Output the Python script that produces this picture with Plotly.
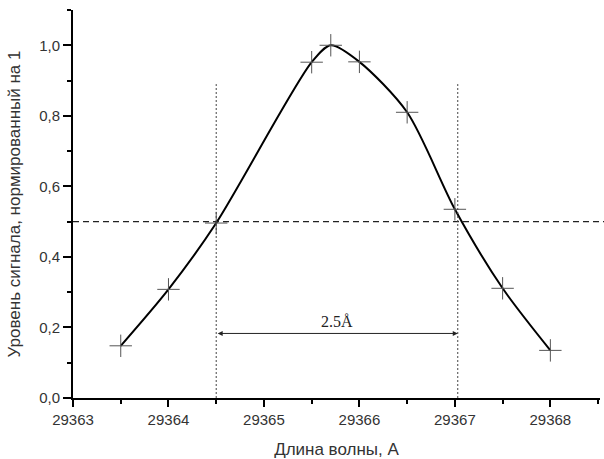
import plotly.graph_objects as go

# Data
wavelength = [29363.5, 29364.0, 29364.5, 29365.5, 29365.7, 29366.0, 29366.5, 29367.0, 29367.5, 29368.0]
signal = [0.148, 0.308, 0.496, 0.952, 1.0, 0.953, 0.81, 0.535, 0.311, 0.135]
half_level = 0.5
fwhm_left = 29364.5
fwhm_right = 29367.03
fwhm_top = 0.89
arrow_y = 0.183
fwhm_label = "2.5Å"
x_ticks = [29363, 29364, 29365, 29366, 29367, 29368]
y_ticks = [0.0, 0.2, 0.4, 0.6, 0.8, 1.0]
y_tick_text = ["0,0", "0,2", "0,4", "0,6", "0,8", "1,0"]

font_family = "Liberation Sans, Arial, sans-serif"

fig = go.Figure()

fig.add_trace(go.Scatter(
    x=wavelength, y=signal, mode="lines",
    line=dict(color="black", width=2, shape="spline", smoothing=0.8),
    showlegend=False, hoverinfo="skip",
))
fig.add_trace(go.Scatter(
    x=wavelength, y=signal, mode="markers",
    marker=dict(symbol="cross-thin", size=16, line=dict(color="#555555", width=1)),
    showlegend=False,
))

# half-max dashed line
fig.add_shape(type="line", xref="paper", yref="y", x0=0, x1=1.01, y0=half_level, y1=half_level,
              line=dict(color="#222222", width=1.2, dash="6px,4px"))
# vertical dotted lines
for xv in [fwhm_left, fwhm_right]:
    fig.add_shape(type="line", xref="x", yref="y", x0=xv, x1=xv, y0=0, y1=fwhm_top,
                  line=dict(color="#444444", width=1, dash="2px,2px"))

# double arrow
fig.add_annotation(x=fwhm_right, y=arrow_y, ax=fwhm_left, ay=arrow_y,
                   xref="x", yref="y", axref="x", ayref="y",
                   showarrow=True, arrowhead=2, startarrowhead=2, arrowside="end+start",
                   arrowsize=1, arrowwidth=1, arrowcolor="#222222", text="")
fig.add_annotation(x=(fwhm_left + fwhm_right) / 2, y=arrow_y, xref="x", yref="y",
                   text=fwhm_label, showarrow=False, yanchor="bottom", yshift=1,
                   font=dict(family="Liberation Serif, Times New Roman, serif", size=16, color="#222222"))

fig.update_xaxes(
    range=[29363, 29368.52], tickvals=x_ticks, ticktext=[str(v) for v in x_ticks],
    ticks="outside", ticklen=7, tickwidth=1.5, tickcolor="black",
    minor=dict(dtick=0.5, ticks="outside", ticklen=4, tickwidth=1.5, tickcolor="black", showgrid=False),
    showline=True, linecolor="black", linewidth=2, showgrid=False, zeroline=False,
    tickfont=dict(family=font_family, size=15, color="#333333"),
    automargin=False,
    title=dict(text="Длина волны, А", font=dict(family=font_family, size=17, color="#333333"), standoff=16),
)
fig.update_yaxes(
    range=[0, 1.1], tickvals=y_ticks, ticktext=y_tick_text,
    ticks="outside", ticklen=8, tickwidth=1.5, tickcolor="black",
    minor=dict(dtick=0.1, ticks="outside", ticklen=4, tickwidth=1.5, tickcolor="black", showgrid=False),
    showline=True, linecolor="black", linewidth=2, showgrid=False, zeroline=False,
    tickfont=dict(family=font_family, size=15, color="#333333"),
    automargin=False,
    title=dict(text="Уровень сигнала, нормированный на 1", font=dict(family=font_family, size=17, color="#333333"), standoff=14),
)

fig.update_layout(
    width=604, height=459,
    margin=dict(l=73, r=4, t=10, b=61),
    plot_bgcolor="white", paper_bgcolor="white",
)

fig.write_html("out.html", config={"displayModeBar": False},
               post_script="document.body.style.margin='0';document.body.style.padding='0';")
